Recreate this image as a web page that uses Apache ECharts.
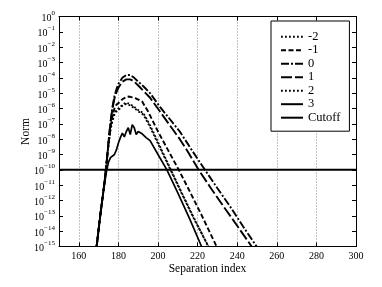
<!DOCTYPE html>
<html>
<head>
<meta charset="utf-8">
<script src="https://cdn.jsdelivr.net/npm/echarts@6/dist/echarts.min.js"></script>
<style>
html,body{margin:0;padding:0;background:#fff;}
#chart{width:382px;height:287px;}
</style>
</head>
<body>
<div id="chart"></div>
<script>
// Values. Y values are log10(Norm).
var xTicks = [160, 180, 200, 220, 240, 260, 280, 300];

var x_m2 = [169, 171, 173, 174, 175, 176, 177, 178, 179, 181, 182, 184, 186, 188, 190, 192.6, 196, 200, 206.5, 212, 218, 225.5];
var y_m2 = [-15, -12.8, -10.8, -9.6, -8.35, -7.4, -6.8, -6.4, -6.2, -5.98, -5.82, -5.7, -5.8, -5.97, -6.18, -6.4, -7.2, -8.3, -10.05, -11.55, -13.15, -15];

var x_m1 = [169, 171, 173, 174, 175, 176, 177, 178, 179, 180.8, 182, 184, 185.5, 187, 189, 192, 195, 200, 205, 210.5, 216, 222, 229.6];
var y_m1 = [-15, -12.8, -10.8, -9.6, -8.3, -7.2, -6.5, -6.0, -5.75, -5.56, -5.4, -5.25, -5.22, -5.28, -5.35, -5.55, -6.2, -7.5, -8.7, -10, -11.4, -12.95, -15];

var x_0 = [169, 171, 173, 174, 175, 176, 177, 178, 179, 180, 182, 184, 185, 186, 188, 190, 193, 196, 201, 206, 211, 217, 223.7, 230, 237, 243, 249.8];
var y_0 = [-15, -12.8, -10.8, -9.6, -8.2, -6.9, -5.9, -5.2, -4.75, -4.4, -4.0, -3.82, -3.78, -3.82, -4.0, -4.25, -4.6, -5.0, -5.9, -6.7, -7.5, -8.7, -10, -11.2, -12.5, -13.7, -15];

var x_1 = [169, 171, 173, 174, 175, 176, 177, 178, 179, 180, 182, 184, 185, 186, 188, 190, 193, 196, 201, 206, 211, 215, 220.5, 227, 234, 240, 247.3];
var y_1 = [-15, -12.8, -10.8, -9.6, -8.2, -6.95, -6.0, -5.35, -4.95, -4.65, -4.25, -4.1, -4.08, -4.1, -4.25, -4.5, -4.9, -5.3, -6.2, -7.1, -8.0, -8.8, -10, -11.25, -12.55, -13.65, -15];

var x_2 = [169, 171, 173, 174, 175, 176, 177, 178, 179, 181, 182, 184, 186, 188, 190, 192.6, 196, 200, 206.5, 212, 218, 225.4];
var y_2 = [-15, -12.8, -10.8, -9.6, -8.3, -7.3, -6.7, -6.3, -6.1, -5.9, -5.75, -5.62, -5.72, -5.9, -6.1, -6.3, -7.1, -8.2, -10, -11.5, -13.1, -15];

var x_3 = [169, 171, 173, 174, 175, 176, 177, 178, 179, 180, 181, 182, 183, 184, 185, 186, 187, 188, 189, 190, 191, 192, 194, 196, 200, 204.5, 210, 216, 222];
var y_3 = [-15, -12.8, -10.9, -10.1, -9.5, -9.2, -9.1, -9.0, -8.7, -8.25, -7.9, -7.6, -7.85, -7.5, -7.25, -7.7, -7.05, -7.25, -7.7, -7.5, -7.55, -7.65, -7.9, -8.1, -9.0, -10, -11.5, -13.2, -15];

var x_cut = [150, 300];
var y_cut = [-10, -10];

var names = ['-2', '-1', '0', '1', '2', '3', 'Cutoff'];

function pairs(xs, ys) { return xs.map(function (x, i) { return [x, ys[i]]; }); }

var FONT = 'Liberation Serif';
var chart = echarts.init(document.getElementById('chart'), null, {renderer: 'canvas'});

function mkSeries(name, xs, ys, dash, width) {
  return {
    name: name, type: 'line', data: pairs(xs, ys),
    symbol: 'none', showSymbol: false, animation: false,
    xAxisIndex: 0, yAxisIndex: 0,
    lineStyle: {color: '#000', width: width, type: dash, cap: 'butt'},
    itemStyle: {color: '#000'}
  };
}

var option = {
  animation: false,
  backgroundColor: '#fff',
  grid: {left: 59, top: 16.5, right: 26, bottom: 40.5, containLabel: false},
  xAxis: [{
    type: 'value', min: 150, max: 300, position: 'bottom',
    name: 'Separation index', nameLocation: 'middle', nameGap: 16, nameMoveOverlap: false,
    nameTextStyle: {fontFamily: FONT, fontSize: 11.5, color: '#000'},
    axisLine: {show: true, onZero: false, lineStyle: {color: '#000', width: 1}},
    axisTick: {show: true, inside: true, length: 4, customValues: xTicks, lineStyle: {color: '#000'}},
    axisLabel: {show: true, customValues: xTicks, margin: 5, fontFamily: FONT, fontSize: 10, color: '#000'},
    splitLine: {show: true, lineStyle: {color: '#888', type: [1, 2], width: 1}}
  }, {
    type: 'value', min: 150, max: 300, position: 'top',
    axisLine: {show: true, onZero: false, lineStyle: {color: '#000', width: 1}},
    axisTick: {show: true, inside: true, length: 4, customValues: xTicks, lineStyle: {color: '#000'}},
    axisLabel: {show: false},
    splitLine: {show: false}
  }],
  yAxis: [{
    type: 'value', min: -15, max: 0, interval: 1, position: 'left',
    name: 'Norm', nameLocation: 'middle', nameGap: 27, nameRotate: 90, nameMoveOverlap: false,
    nameTextStyle: {fontFamily: FONT, fontSize: 11.5, color: '#000'},
    axisLine: {show: true, onZero: false, lineStyle: {color: '#000', width: 1}},
    axisTick: {show: true, inside: true, length: 4, lineStyle: {color: '#000'}},
    axisLabel: {
      show: true, margin: 4, color: '#000',
      formatter: function (v) {
        var s = v === 0 ? '0' : '\u2212' + Math.abs(v);
        return '{b|10}{s|' + s + '}';
      },
      rich: {
        b: {fontFamily: FONT, fontSize: 10, color: '#000', padding: [4, 0, 0, 0], verticalAlign: 'bottom'},
        s: {fontFamily: FONT, fontSize: 7, color: '#000', lineHeight: 8, verticalAlign: 'top'}
      }
    },
    splitLine: {show: false}
  }, {
    type: 'value', min: -15, max: 0, interval: 1, position: 'right',
    axisLine: {show: true, onZero: false, lineStyle: {color: '#000', width: 1}},
    axisTick: {show: true, inside: true, length: 4, lineStyle: {color: '#000'}},
    axisLabel: {show: false},
    splitLine: {show: false}
  }],
  legend: {
    show: true, orient: 'vertical', left: 271, top: 21,
    data: names,
    itemWidth: 22, itemHeight: 12, itemGap: 0.5,
    padding: [9.2, 9, 7, 9],
    itemStyle: {opacity: 0},
    backgroundColor: '#fff', borderColor: '#000', borderWidth: 1, borderRadius: 0,
    textStyle: {fontFamily: FONT, fontSize: 12.5, color: '#000', lineHeight: 12},
    inactiveColor: '#000'
  },
  series: [
    mkSeries('-2', x_m2, y_m2, [1.8, 2.2], 1.9),
    mkSeries('-1', x_m1, y_m1, [5, 2.5], 1.9),
    mkSeries('0', x_0, y_0, [8, 2, 2, 2], 1.9),
    mkSeries('1', x_1, y_1, [11, 3], 1.9),
    mkSeries('2', x_2, y_2, [1.8, 2.2], 1.9),
    mkSeries('3', x_3, y_3, 'solid', 1.7),
    mkSeries('Cutoff', x_cut, y_cut, 'solid', 2)
  ]
};
chart.setOption(option);
</script>
</body>
</html>
